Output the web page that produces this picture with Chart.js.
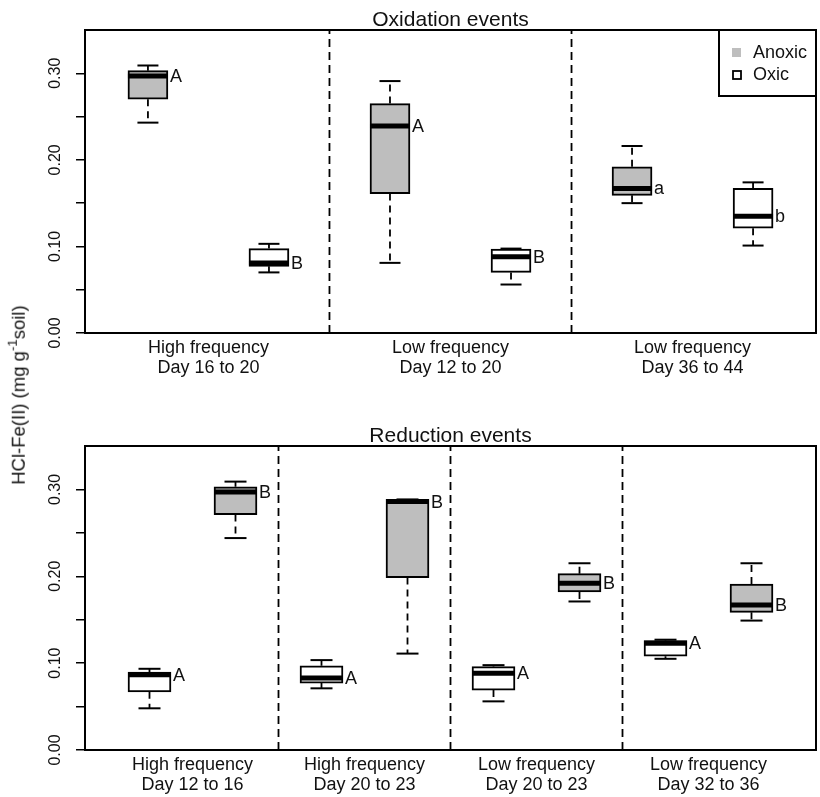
<!DOCTYPE html>
<html><head><meta charset="utf-8">
<script src="https://cdn.jsdelivr.net/npm/chart.js@4"></script>
<style>
html,body{margin:0;padding:0;background:#fff;}
#wrap{position:relative;width:820px;height:797px;overflow:hidden;background:#fff;}
canvas{position:absolute;left:0;}
#c1{top:0px;} #c2{top:400px;}
#ylab{position:absolute;left:19px;top:395px;transform:translate(-50%,-50%) rotate(-90deg);white-space:nowrap;font-family:'Liberation Sans',Arial,sans-serif;font-size:18.5px;color:#111;line-height:1;}
#ylab sup{font-size:0.72em;vertical-align:0.6em;line-height:0;}
</style></head>
<body><div id="wrap">
<canvas id="c1" width="820" height="400"></canvas>
<canvas id="c2" width="820" height="397"></canvas>
<div id="ylab">HCl-Fe(II) (mg g<sup>-1</sup>soil)</div>
</div>
<script>
// ---------- data ----------
const seriesNames = ["Anoxic", "Oxic"];
const yTicks = [0, 0.05, 0.10, 0.15, 0.20, 0.25, 0.30];
const yLabelTicks = [0, 0.10, 0.20, 0.30];

// Oxidation events (top panel)
const topTitle = "Oxidation events";
const topGroups = [["High frequency", "Day 16 to 20"], ["Low frequency", "Day 12 to 20"], ["Low frequency", "Day 36 to 44"]];
const topTreatment = ["Anoxic", "Oxic", "Anoxic", "Oxic", "Anoxic", "Oxic"];
const topMin    = [0.243, 0.070, 0.081, 0.056, 0.150, 0.101];
const topQ1     = [0.270, 0.077, 0.161, 0.070, 0.159, 0.121];
const topMedian = [0.297, 0.081, 0.239, 0.088, 0.167, 0.135];
const topQ3     = [0.303, 0.0975, 0.265, 0.097, 0.192, 0.167];
const topMax    = [0.309, 0.103, 0.291, 0.0975, 0.216, 0.174];
const topLetters = ["A", "B", "A", "B", "a", "b"];

// Reduction events (bottom panel)
const bottomTitle = "Reduction events";
const bottomGroups = [["High frequency", "Day 12 to 16"], ["High frequency", "Day 20 to 23"], ["Low frequency", "Day 20 to 23"], ["Low frequency", "Day 32 to 36"]];
const bottomTreatment = ["Oxic", "Anoxic", "Oxic", "Anoxic", "Oxic", "Anoxic", "Oxic", "Anoxic"];
const bottomMin    = [0.048, 0.244, 0.071, 0.111, 0.056, 0.171, 0.105, 0.149];
const bottomQ1     = [0.067, 0.271, 0.077, 0.1985, 0.069, 0.182, 0.108, 0.1585];
const bottomMedian = [0.0865, 0.297, 0.083, 0.286, 0.0885, 0.192, 0.123, 0.167];
const bottomQ3     = [0.0896, 0.303, 0.097, 0.2885, 0.096, 0.203, 0.126, 0.191];
const bottomMax    = [0.0935, 0.309, 0.1035, 0.2885, 0.0977, 0.215, 0.127, 0.215];
const bottomLetters = ["A", "B", "A", "B", "A", "B", "A", "B"];

// ---------- styling ----------
const FONT = "'Liberation Sans', Arial, sans-serif";
const GRAY = "#bebebe";
const INK = "#111";

const panelPlugin = {
  id: 'panel',
  afterDatasetsDraw(chart) {
    const p = chart.options.plugins.panel;
    const ctx = chart.ctx, a = chart.chartArea, x = chart.scales.x, y = chart.scales.y;
    ctx.save();
    ctx.strokeStyle = '#000'; ctx.lineWidth = 2;
    ctx.strokeRect(a.left, a.top, a.right - a.left, a.bottom - a.top);
    ctx.fillStyle = INK;
    ctx.textAlign = 'center'; ctx.textBaseline = 'middle';
    // y tick labels (rotated as in R)
    ctx.font = '16px ' + FONT;
    yLabelTicks.forEach(v => {
      const py = y.getPixelForValue(v);
      ctx.save(); ctx.translate(a.left - 29, py); ctx.rotate(-Math.PI / 2);
      ctx.fillText(v.toFixed(2), 0, 0); ctx.restore();
    });
    // title
    ctx.font = '21px ' + FONT;
    ctx.fillText(p.title, (a.left + a.right) / 2, a.top - 9.5);
    // group labels
    ctx.font = '18px ' + FONT;
    p.groups.forEach((g, gi) => {
      const px = x.getPixelForValue(2 * gi + 1.5);
      ctx.fillText(g[0], px, a.bottom + 15);
      ctx.fillText(g[1], px, a.bottom + 35);
    });
    // significance letters
    ctx.textAlign = 'left';
    p.letters.forEach((L, i) => {
      const px = x.getPixelForValue(i + 1) + p.half + 2;
      ctx.fillText(L, px, y.getPixelForValue(p.median[i]) + 1);
    });
    // legend
    if (p.legend) {
      const lx = a.right - 97, ly = a.top;
      ctx.fillStyle = '#fff';
      ctx.fillRect(lx, ly, 97, 66);
      ctx.strokeStyle = '#000'; ctx.lineWidth = 2;
      ctx.strokeRect(lx, ly, 97, 66);
      ctx.fillStyle = GRAY;
      ctx.fillRect(lx + 13, ly + 18, 9, 9);
      ctx.fillStyle = '#fff';
      ctx.fillRect(lx + 14, ly + 41, 8, 8);
      ctx.strokeStyle = '#000'; ctx.lineWidth = 1.8;
      ctx.strokeRect(lx + 14, ly + 41, 8, 8);
      ctx.fillStyle = INK; ctx.font = '18px ' + FONT;
      ctx.fillText(seriesNames[0], lx + 34, ly + 23);
      ctx.fillText(seriesNames[1], lx + 34, ly + 45);
    }
    ctx.restore();
  }
};

function makePanel(id, d) {
  const n = d.median.length;
  const boxData = d.q1.map((q, i) => ({ x: i + 1, y: [d.q1[i], d.q3[i]] }));
  const fills = d.treatment.map(t => t === 'Anoxic' ? GRAY : '#fff');
  const medData = d.median.map((m, i) => ({ x: i + 1, y: m }));
  const capData = [];
  const whiskData = [];
  for (let i = 0; i < n; i++) {
    capData.push({ x: i + 1, y: d.max[i] }, { x: i + 1, y: d.min[i] });
    whiskData.push({ x: i + 1, y: d.q3[i] }, { x: i + 1, y: d.max[i] }, { x: i + 1, y: null },
                   { x: i + 1, y: d.q1[i] }, { x: i + 1, y: d.min[i] }, { x: i + 1, y: null });
  }
  const divData = [];
  for (let g = 1; g < d.groups.length; g++) {
    divData.push({ x: 2 * g + 0.5, y: 0 }, { x: 2 * g + 0.5, y: 0.35 }, { x: 2 * g + 0.5, y: null });
  }
  return new Chart(document.getElementById(id), {
    type: 'bar',
    data: {
      datasets: [
        { type: 'line', data: divData, borderColor: '#000', borderWidth: 1.8, borderDash: [8, 5],
          pointRadius: 0, spanGaps: false, fill: false, order: 6 },
        { type: 'line', data: whiskData, borderColor: '#000', borderWidth: 1.8, borderDash: [7, 5],
          pointRadius: 0, spanGaps: false, fill: false, order: 5 },
        { type: 'bar', data: boxData, backgroundColor: fills, borderColor: '#000', borderWidth: 2,
          borderSkipped: false, barThickness: d.half * 2, order: 3 },
        { type: 'line', data: capData, showLine: false, pointStyle: 'line', pointRadius: d.cap,
          pointBorderWidth: 2, pointBorderColor: '#000', pointBackgroundColor: '#000', order: 2 },
        { type: 'line', data: medData, showLine: false, pointStyle: 'line', pointRadius: d.half,
          pointBorderWidth: 5, pointBorderColor: '#000', pointBackgroundColor: '#000', order: 1 }
      ]
    },
    options: {
      responsive: false, animation: false, events: [],
      layout: { padding: d.padding, autoPadding: false },
      scales: {
        x: { type: 'linear', min: d.xmin, max: d.xmax, display: false, offset: false },
        y: {
          type: 'linear', min: 0, max: 0.35,
          afterBuildTicks: s => { s.ticks = yTicks.map(v => ({ value: v })); },
          afterFit: s => { s.width = 85; },
          ticks: { display: false },
          grid: { drawOnChartArea: false, drawTicks: true, tickLength: 9, color: '#000', lineWidth: 1.5 },
          border: { display: false }
        }
      },
      plugins: {
        legend: { display: false }, tooltip: { enabled: false },
        panel: { title: d.title, groups: d.groups, letters: d.letters, median: d.median, half: d.half, legend: d.legend }
      }
    },
    plugins: [panelPlugin]
  });
}

makePanel('c1', {
  title: topTitle, groups: topGroups, treatment: topTreatment,
  min: topMin, q1: topQ1, median: topMedian, q3: topQ3, max: topMax, letters: topLetters,
  xmin: 0.48, xmax: 6.52, half: 20, cap: 10.5, legend: true,
  padding: { top: 30, right: 4, bottom: 67, left: 0 }
});
makePanel('c2', {
  title: bottomTitle, groups: bottomGroups, treatment: bottomTreatment,
  min: bottomMin, q1: bottomQ1, median: bottomMedian, q3: bottomQ3, max: bottomMax, letters: bottomLetters,
  xmin: 0.25, xmax: 8.75, half: 21.5, cap: 11, legend: false,
  padding: { top: 46, right: 4, bottom: 47, left: 0 }
});
</script>
</body></html>
